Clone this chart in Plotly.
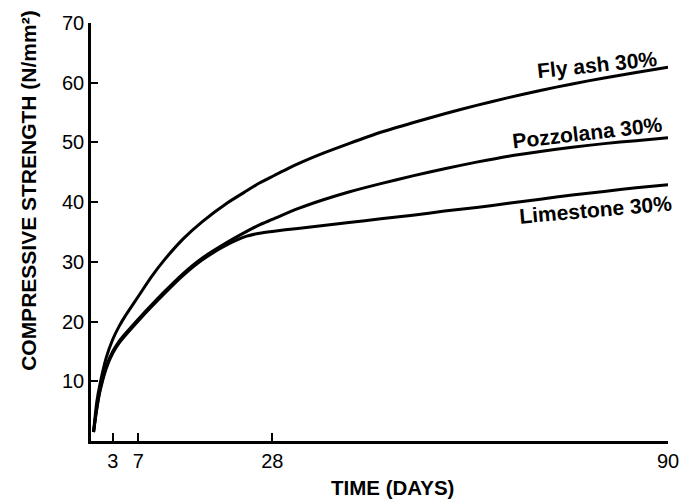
import plotly.graph_objects as go

days = [0, 0.5, 1, 2, 3, 4, 5, 7, 9, 11, 14, 17, 21, 24, 26, 28, 32, 36, 40, 45,
        50, 55, 60, 65, 70, 75, 80, 85, 90]
fly_ash = [1.5, 6.5, 9.5, 14.0, 17.0, 19.2, 21.0, 24.2, 27.4, 30.2, 33.8, 36.7, 39.9, 41.9, 43.2,
           44.3, 46.4, 48.2, 49.8, 51.7, 53.3, 54.8, 56.2, 57.5, 58.7, 59.8, 60.8, 61.7, 62.6]
pozzolana = [1.5, 5.5, 8.5, 12.5, 15.0, 16.7, 18.0, 20.4, 22.7, 24.9, 28.0, 30.6, 33.3, 35.1, 36.2,
             37.1, 38.9, 40.4, 41.7, 43.1, 44.4, 45.6, 46.7, 47.7, 48.5, 49.2, 49.8, 50.3, 50.8]
limestone = [1.5, 5.3, 8.3, 12.2, 14.7, 16.4, 17.7, 20.1, 22.4, 24.6, 27.7, 30.3, 32.9, 34.3, 34.8,
             35.1, 35.6, 36.1, 36.6, 37.2, 37.8, 38.5, 39.1, 39.8, 40.5, 41.2, 41.8, 42.4, 42.9]

series_names = ["Fly ash 30%", "Pozzolana 30%", "Limestone 30%"]
label_x = [79.0, 77.4, 78.7]
label_y = [63.0, 51.6, 38.8]
label_angle = [-6, -6.5, -5]

x_ticks = [3, 7, 28, 90]
y_ticks = [10, 20, 30, 40, 50, 60, 70]

FONT = "Liberation Sans, Arial, sans-serif"

fig = go.Figure()
for name, vals in zip(series_names, [fly_ash, pozzolana, limestone]):
    fig.add_trace(go.Scatter(
        x=days, y=vals, mode="lines", name=name,
        line=dict(color="black", width=3, shape="spline", smoothing=0.6),
        showlegend=False, hoverinfo="skip", cliponaxis=False,
    ))

for name, lx, ly, ang in zip(series_names, label_x, label_y, label_angle):
    fig.add_annotation(
        x=lx, y=ly, xref="x", yref="y", text="<b>%s</b>" % name,
        showarrow=False, textangle=ang, xanchor="center", yanchor="middle",
        font=dict(family=FONT, size=21, color="black"),
    )

fig.add_annotation(
    x=(28 - 91) / 587, y=(441 - 189) / 421, xref="x domain", yref="y domain",
    text="<b>COMPRESSIVE STRENGTH (N/mm²)</b>",
    showarrow=False, textangle=-90, xanchor="center", yanchor="middle",
    font=dict(family=FONT, size=21, color="black"),
)

fig.add_annotation(
    x=(398 - 91) / 587, y=-(488 - 441) / 421, xref="x domain", yref="y domain",
    text="<b>TIME (DAYS)</b>", showarrow=False, xanchor="center", yanchor="middle",
    font=dict(family=FONT, size=20.5, color="black"),
)

fig.update_xaxes(
    range=[-0.4, 90], tickvals=x_ticks, ticktext=[str(t) for t in x_ticks],
    ticks="inside", ticklen=8, tickwidth=2, tickcolor="black",
    showline=True, linecolor="black", linewidth=2.5,
    showgrid=False, zeroline=False,
    tickfont=dict(family=FONT, size=20, color="black"),
)
fig.update_yaxes(
    range=[0, 70], tickvals=y_ticks, ticktext=[str(t) for t in y_ticks],
    ticks="inside", ticklen=7, tickwidth=2, tickcolor="black",
    showline=True, linecolor="black", linewidth=2.5,
    showgrid=False, zeroline=False,
    tickfont=dict(family=FONT, size=20, color="black"),
)

fig.update_layout(
    width=691, height=501,
    margin=dict(l=91, r=13, t=20, b=60),
    paper_bgcolor="white", plot_bgcolor="white",
    font=dict(family=FONT, color="black"),
)

fig.write_html("out.html")
